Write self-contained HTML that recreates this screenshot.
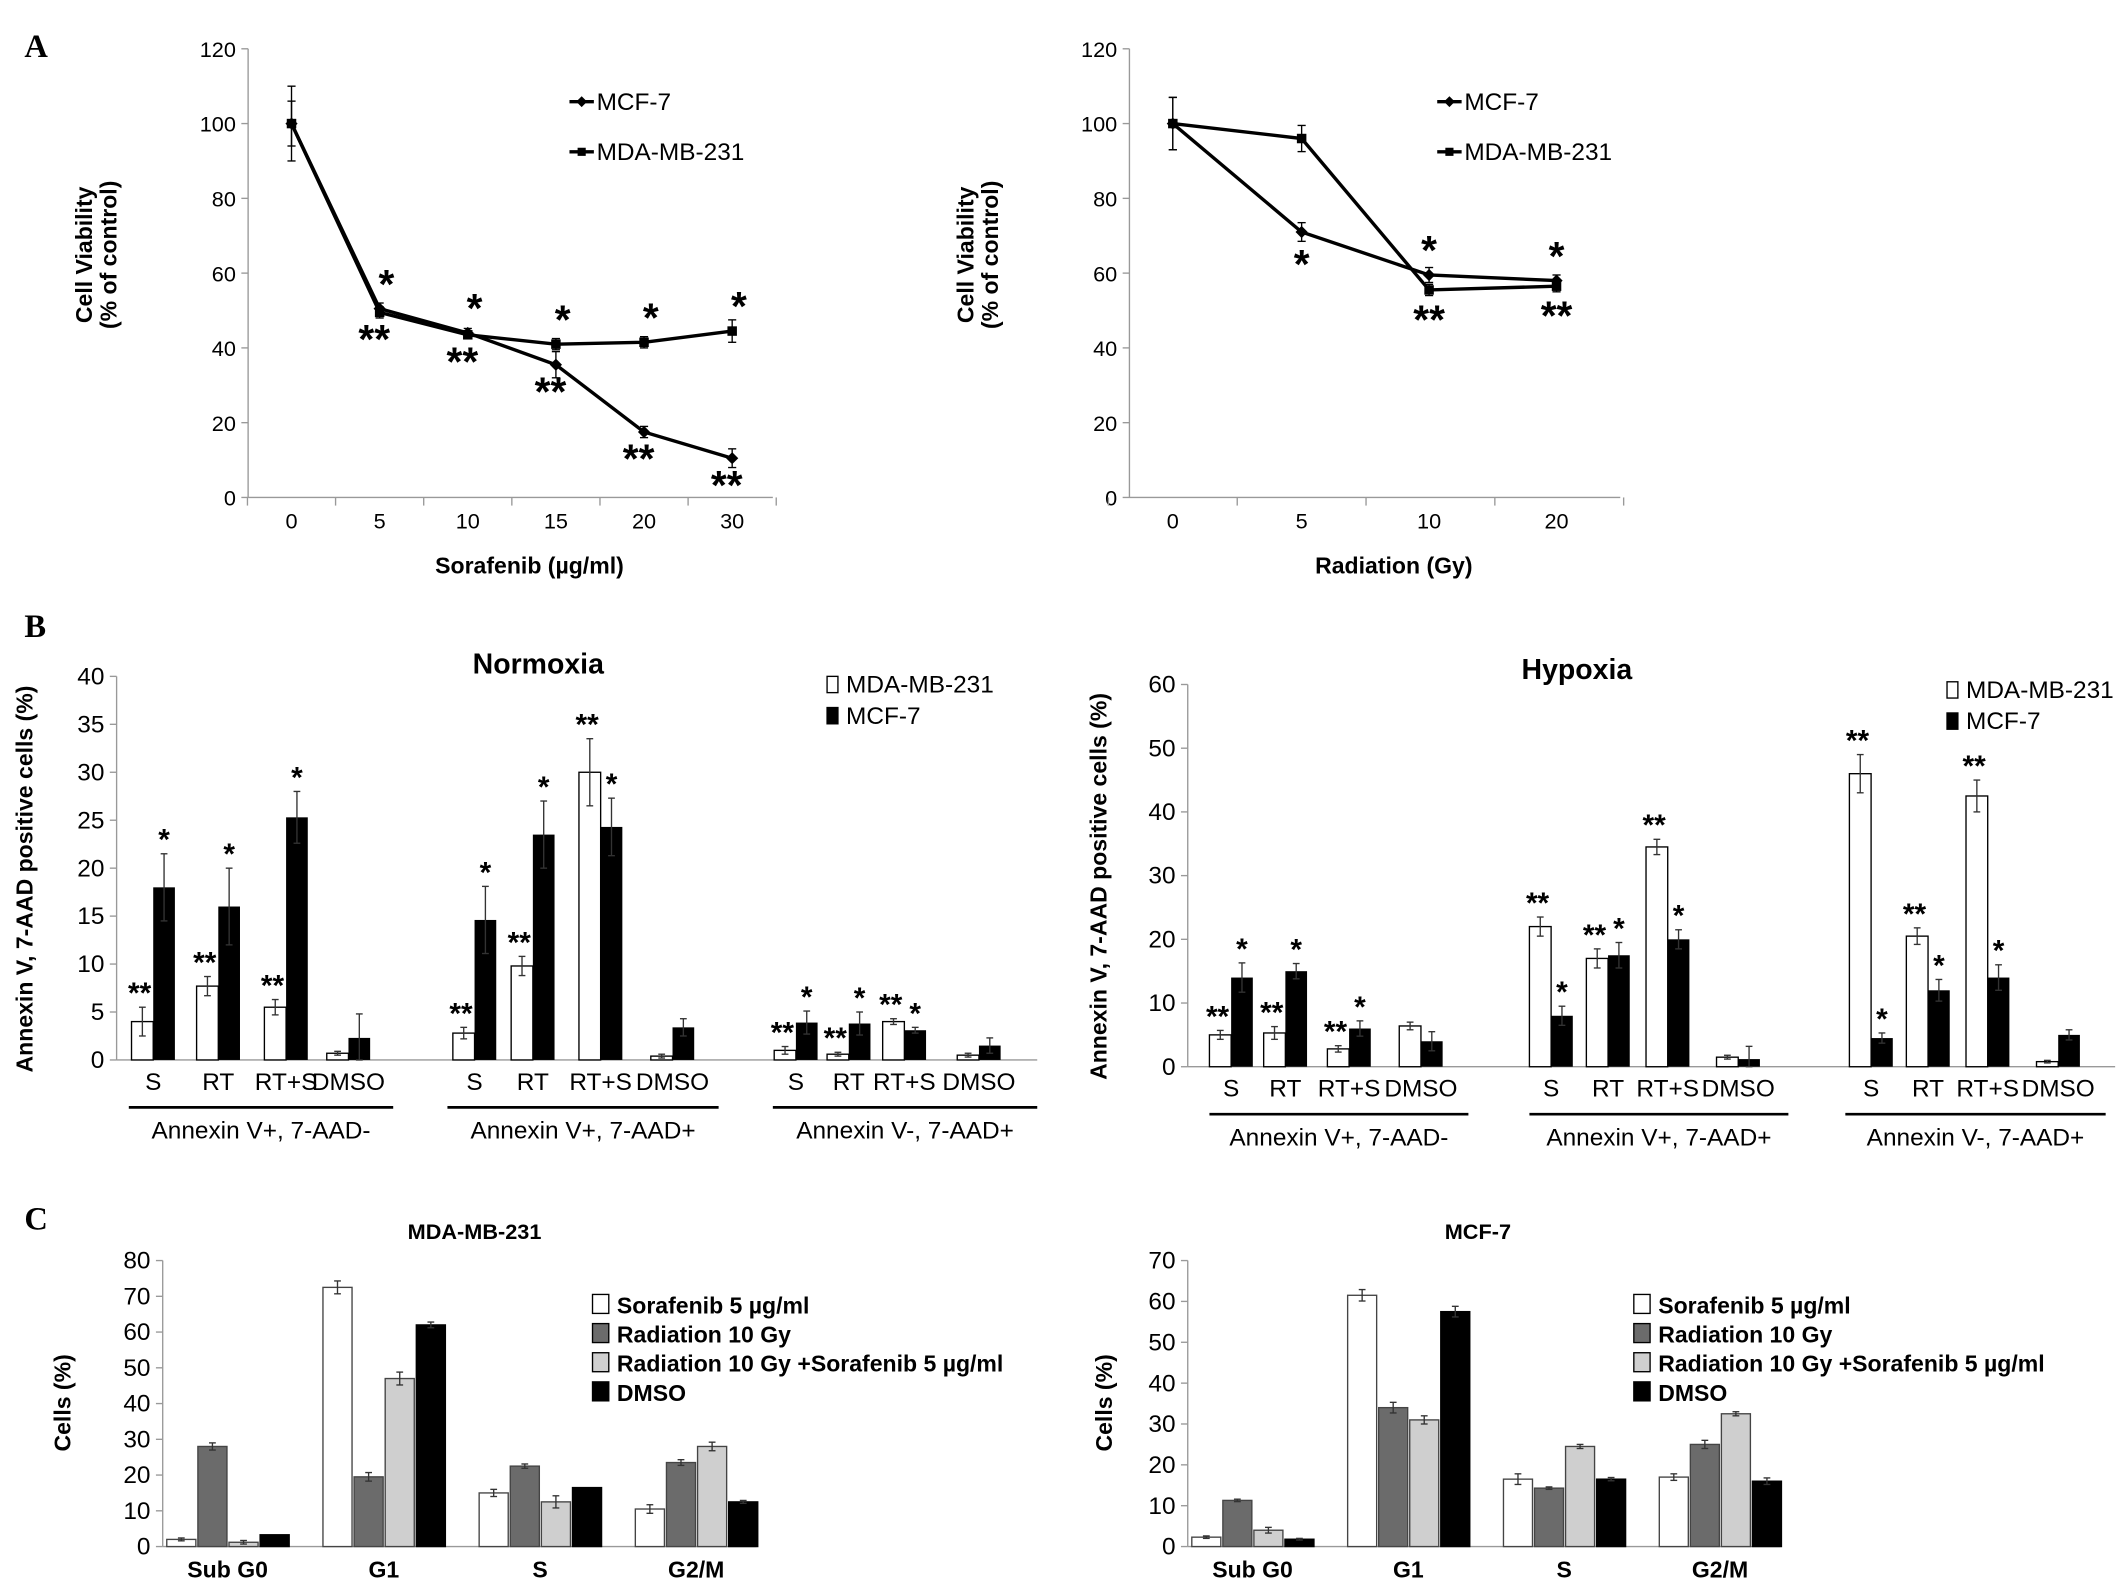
<!DOCTYPE html>
<html><head><meta charset="utf-8"><style>
html,body{margin:0;padding:0;background:#fff}
svg{display:block;font-family:"Liberation Sans",Arial,sans-serif}
</style></head><body>
<svg id="fig" width="2126" height="1594" viewBox="0 0 1568 1176" preserveAspectRatio="none" xmlns="http://www.w3.org/2000/svg">
<g id="static">
<text x="18" y="42" font-family="Liberation Serif" font-weight="bold" font-size="24">A</text>
<text x="18" y="470" font-family="Liberation Serif" font-weight="bold" font-size="24">B</text>
<text x="18" y="907" font-family="Liberation Serif" font-weight="bold" font-size="24">C</text>
</g>
</svg>
<script>
// ---- Panel A left (Sorafenib) ----
const aLCats = ['0','5','10','15','20','30'];
const aLMcf = [100, 50.5, 44, 35.5, 17.5, 10.5];
const aLMda = [100, 49.5, 43.5, 41, 41.5, 44.5];
const aLMcfErr = [6, 1.5, 1.2, 3.5, 1.5, 2.5];
const aLMdaErr = [10, 1.5, 1, 1.5, 1.5, 3];
const aLTicks = [0,20,40,60,80,100,120];
// ---- Panel A right (Radiation) ----
const aRCats = ['0','5','10','20'];
const aRMcf = [100, 71, 59.5, 58];
const aRMda = [100, 96, 55.5, 56.5];
const aRMcfErr = [7, 2.5, 2, 1.5];
const aRMdaErr = [7, 3.5, 1.5, 1.5];
// ---- Panel B ----
const bCats = ['S','RT','RT+S','DMSO'];
const bGroups = ['Annexin V+, 7-AAD-','Annexin V+, 7-AAD+','Annexin V-, 7-AAD+'];
const bNormMda = [4,7.7,5.5,0.7, 2.8,9.8,30,0.4, 1,0.6,4,0.5];
const bNormMcf = [18,16,25.3,2.3, 14.6,23.5,24.3,3.4, 3.9,3.8,3.1,1.5];
const bNormMdaErr = [1.5,1,0.8,0.2, 0.6,1,3.5,0.2, 0.4,0.2,0.3,0.2];
const bNormMcfErr = [3.5,4,2.7,2.5, 3.5,3.5,3,0.9, 1.2,1.2,0.3,0.8];
const bNormMdaStar = ['**','**','**','', '**','**','**','', '**','**','**',''];
const bNormMcfStar = ['*','*','*','', '*','*','*','', '*','*','*',''];
const bNormTicks = [0,5,10,15,20,25,30,35,40];
const bHypMda = [5,5.3,2.8,6.4, 22,17,34.5,1.5, 46,20.5,42.5,0.8];
const bHypMcf = [14,15,6,4, 8,17.5,20,1.2, 4.5,12,14,5];
const bHypMdaErr = [0.7,1,0.5,0.6, 1.5,1.5,1.2,0.3, 3,1.3,2.5,0.2];
const bHypMcfErr = [2.3,1.2,1.2,1.5, 1.5,2,1.5,2, 0.8,1.7,2,0.8];
const bHypMdaStar = ['**','**','**','', '**','**','**','', '**','**','**',''];
const bHypMcfStar = ['*','*','*','', '*','*','*','', '*','*','*',''];
const bHypTicks = [0,10,20,30,40,50,60];
// ---- Panel C ----
const cCats = ['Sub G0','G1','S','G2/M'];
const cSeries = ['Sorafenib 5 µg/ml','Radiation 10 Gy','Radiation 10 Gy +Sorafenib 5 µg/ml','DMSO'];
const cMdaSor = [2, 72.5, 15, 10.5];
const cMdaRad = [28, 19.5, 22.5, 23.5];
const cMdaBoth = [1.2, 47, 12.5, 28];
const cMdaDmso = [3.3, 62, 16.5, 12.5];
const cMdaErr = [[0.4,1.8,1,1.2],[1,1.2,0.6,0.8],[0.5,1.8,1.7,1.2],[0,0.8,0,0.4]];
const cMcfSor = [2.3, 61.5, 16.5, 17];
const cMcfRad = [11.3, 34, 14.3, 25];
const cMcfBoth = [4, 31, 24.5, 32.5];
const cMcfDmso = [1.8, 57.5, 16.5, 16];
const cMcfErr = [[0.3,1.4,1.3,0.8],[0.3,1.3,0.3,1],[0.7,1,0.5,0.5],[0.2,1.3,0.4,0.8]];
const cMdaTicks = [0,10,20,30,40,50,60,70,80];
const cMcfTicks = [0,10,20,30,40,50,60,70];

const NS='http://www.w3.org/2000/svg';
const svg=document.getElementById('fig');
function el(tag,attrs,parent,text){const e=document.createElementNS(NS,tag);for(const k in attrs)e.setAttribute(k,attrs[k]);if(text!==undefined)e.textContent=text;(parent||svg).appendChild(e);return e;}
function txt(x,y,s,size,extra,parent){const t=el('text',Object.assign({x:x,y:y,'font-size':size,'text-anchor':'middle'},extra||{}),parent,s);return t;}

function yAxis(g,x,y0,yTop,max,ticks,size){
  const sc=v=>y0-(v/max)*(y0-yTop);
  el('line',{x1:x,y1:y0,x2:x,y2:yTop,stroke:'#999','stroke-width':1},g);
  ticks.forEach(t=>{el('line',{x1:x-5,y1:sc(t),x2:x,y2:sc(t),stroke:'#999'},g);
    const l=txt(x-9,sc(t)+6,String(t),size,{'text-anchor':'end'},g);
    
    });
  return sc;
}
function errBar(g,x,y1,y2,w,col){el('line',{x1:x,y1:y1,x2:x,y2:y2,stroke:col||'#333','stroke-width':1},g);
  el('line',{x1:x-w,y1:y1,x2:x+w,y2:y1,stroke:col||'#333'},g);el('line',{x1:x-w,y1:y2,x2:x+w,y2:y2,stroke:col||'#333'},g);}

// ---- Panel A line charts ----
function lineChart(name,x0,xEnd,cats,xs,mcf,mda,mcfE,mdaE,xtitle,legX,stars){
  const g=el('g',{});
  
  
  const sc=yAxis(g,x0,367,36,120,aLTicks,16);
  el('line',{x1:x0,y1:367,x2:xEnd,y2:367,stroke:'#999'},g);
  const step=(xs[1]-xs[0]);
  for(let i=0;i<=cats.length;i++){const tx=xs[0]-step/2+i*step;el('line',{x1:tx,y1:367,x2:tx,y2:373,stroke:'#999'},g);}
  cats.forEach((c,i)=>{const l=txt(xs[i],390,c,16,{},g);});
  [[mcf,mcfE,'mcf7'],[mda,mdaE,'mdamb231']].forEach(([vals,errs,nm])=>{
    const pts=vals.map((v,i)=>xs[i]+','+sc(v)).join(' ');
    const pl=el('polyline',{points:pts,fill:'none',stroke:'#000','stroke-width':2.5},g);
    
    
    vals.forEach((v,i)=>{errBar(g,xs[i],sc(v+errs[i]),sc(v-errs[i]),3,'#000');
      let m;
      if(nm==='mcf7'){m=el('polygon',{points:`${xs[i]},${sc(v)-4.5} ${xs[i]+4.5},${sc(v)} ${xs[i]},${sc(v)+4.5} ${xs[i]-4.5},${sc(v)}`,fill:'#000'},g);}
      else{m=el('rect',{x:xs[i]-3.5,y:sc(v)-3.5,width:7,height:7,fill:'#000'},g);}
      
      
    });
  });
  stars(g,sc);
  const yl=el('text',{transform:`translate(${x0-115},188) rotate(-90)`,'font-size':17,'font-weight':'bold','text-anchor':'middle'},g);
  el('tspan',{x:0,y:0},yl,'Cell Viability');el('tspan',{x:0,y:18},yl,'(% of  control)');
  
  
  const xt=txt((x0+xEnd)/2+14,423,xtitle,17,{'font-weight':'bold'},g);
  
  
  [['MCF-7',75,'diamond'],['MDA-MB-231',112,'square']].forEach(([s,y,sh])=>{
    const lg=el('g',{},g);
    
    
    el('line',{x1:legX,y1:y,x2:legX+18,y2:y,stroke:'#000','stroke-width':2.5},lg);
    if(sh==='diamond')el('polygon',{points:`${legX+9},${y-4} ${legX+13},${y} ${legX+9},${y+4} ${legX+5},${y}`},lg);
    else el('rect',{x:legX+6,y:y-3,width:6,height:6},lg);
    txt(legX+20,y+6,s,18,{'text-anchor':'start'},lg);
  });
}
lineChart('sorafenib-viability-chart',183,570,aLCats,[215,280,345,410,475,540],aLMcf,aLMda,aLMcfErr,aLMdaErr,'Sorafenib (µg/ml)',420,(g,sc)=>{
  for(let i=1;i<aLCats.length;i++){const xs=[215,280,345,410,475,540];
    txt(xs[i]+5,Math.min(sc(aLMda[i]),sc(aLMcf[i]))-8,'*',30,{'font-weight':'bold'},g);
    txt(xs[i]-4,Math.max(sc(aLMda[i]),sc(aLMcf[i]))+30,'**',30,{'font-weight':'bold'},g);}
});
lineChart('radiation-viability-chart',833,1195,aRCats,[865,960,1054,1148],aRMcf,aRMda,aRMcfErr,aRMdaErr,'Radiation (Gy)',1060,(g,sc)=>{
  const xs=[865,960,1054,1148];
  txt(xs[1],sc(aRMcf[1])+34,'*',30,{'font-weight':'bold'},g);
  for(let i=2;i<4;i++){txt(xs[i],Math.min(sc(aRMda[i]),sc(aRMcf[i]))-8,'*',30,{'font-weight':'bold'},g);
    txt(xs[i],Math.max(sc(aRMda[i]),sc(aRMcf[i]))+32,'**',30,{'font-weight':'bold'},g);}
});

// ---- Panel B ----
function annexChart(name,x0,xEnd,y0,yTop,max,ticks,catX,mda,mcf,mdaE,mcfE,mdaS,mcfS,title,titleX,titleY,legX,legY,groupLines,bw,ylx){
  const g=el('g',{});
  
  
  const sc=yAxis(g,x0,y0,yTop,max,ticks,18);
  el('line',{x1:x0,y1:y0,x2:xEnd,y2:y0,stroke:'#999'},g);
  catX.forEach((cx,i)=>{
    const r1=el('rect',{x:cx-bw,y:sc(mda[i]),width:bw,height:y0-sc(mda[i]),fill:'#fff',stroke:'#000','stroke-width':1},g);
    
    
    const r2=el('rect',{x:cx,y:sc(mcf[i]),width:bw,height:y0-sc(mcf[i]),fill:'#000'},g);
    
    
    errBar(g,cx-bw/2,sc(mda[i]+mdaE[i]),sc(mda[i]-mdaE[i]),2.5);
    errBar(g,cx+bw/2,sc(mcf[i]+mcfE[i]),sc(Math.max(0,mcf[i]-mcfE[i])),2.5);
    if(mdaS[i])txt(cx-bw/2-2,sc(mda[i]+mdaE[i])-3,mdaS[i],22,{'font-weight':'bold'},g);
    if(mcfS[i])txt(cx+bw/2,sc(mcf[i]+mcfE[i])-3,mcfS[i],22,{'font-weight':'bold'},g);
    const l=txt(cx,y0+22,bCats[i%4],18,{},g);
    
    
  });
  groupLines.forEach(([a,b],k)=>{el('line',{x1:a,y1:y0+35,x2:b,y2:y0+35,stroke:'#000','stroke-width':2},g);
    const l=txt((a+b)/2,y0+58,bGroups[k],18,{},g);
    
    });
  const t=txt(titleX,titleY,title,21,{'font-weight':'bold'},g);
  
  
  const yl=el('text',{transform:`translate(${ylx},${(y0+yTop)/2+8}) rotate(-90)`,'font-size':17,'font-weight':'bold','text-anchor':'middle'},g,'Annexin V, 7-AAD positive cells (%)');
  
  
  [['MDA-MB-231','#fff'],['MCF-7','#000']].forEach(([s,c],k)=>{
    const lg=el('g',{},g);
    
    
    el('rect',{x:legX,y:legY+k*23-12,width:8,height:12,fill:c,stroke:'#000'},lg);
    txt(legX+14,legY+k*23,s,18,{'text-anchor':'start'},lg);
  });
}
annexChart('normoxia-chart',86,765,782,499,40,bNormTicks,[113,161,211,257,350,393,443,496,587,626,667,722],bNormMda,bNormMcf,bNormMdaErr,bNormMcfErr,bNormMdaStar,bNormMcfStar,'Normoxia',397,497,610,511,[[95,290],[330,530],[570,765]],16,24);
annexChart('hypoxia-chart',876,1560,787,505,60,bHypTicks,[908,948,995,1048,1144,1186,1230,1282,1380,1422,1466,1518],bHypMda,bHypMcf,bHypMdaErr,bHypMcfErr,bHypMdaStar,bHypMcfStar,'Hypoxia',1163,501,1436,515,[[892,1083],[1128,1319],[1361,1553]],16,816);

// ---- Panel C ----
function cycleChart(name,x0,xEnd,max,ticks,series,errs,title,titleX,legX,ylx){
  const g=el('g',{});
  
  
  const y0=1141,yTop=930;
  const sc=yAxis(g,x0,y0,yTop,max,ticks,18);
  el('line',{x1:x0,y1:y0,x2:xEnd,y2:y0,stroke:'#999'},g);
  const L=xEnd-x0, gw=0.205*L, bw=gw/4-1;
  const fills=['#fff','#6b6b6b','#cfcfcf','#000'];
  cCats.forEach((c,i)=>{
    const gs=x0+3+i*0.263*L;
    series.forEach((vals,s)=>{
      const bx=gs+s*(bw+1.5);
      const r=el('rect',{x:bx,y:sc(vals[i]),width:bw,height:y0-sc(vals[i]),fill:fills[s],stroke:s==3?'#000':'#444','stroke-width':1},g);
      
      
      if(errs[s][i]>0)errBar(g,bx+bw/2,sc(vals[i]+errs[s][i]),sc(vals[i]-errs[s][i]),2.5);
    });
    const l=txt(gs+gw/2,y0+23,c,17,{'font-weight':'bold'},g);
    
    
  });
  const t=txt(titleX,914,title,16,{'font-weight':'bold'},g);
  
  
  const yl=el('text',{transform:`translate(${ylx},1035) rotate(-90)`,'font-size':17,'font-weight':'bold','text-anchor':'middle'},g,'Cells (%)');
  
  
  cSeries.forEach((s,k)=>{
    const lg=el('g',{},g);
    
    
    el('rect',{x:legX,y:955+k*21.5,width:12,height:14,fill:fills[k],stroke:'#000'},lg);
    txt(legX+18,969+k*21.5,s,17,{'text-anchor':'start','font-weight':'bold'},lg);
  });
}
cycleChart('mdamb231-cell-cycle-chart',120,558,80,cMdaTicks,[cMdaSor,cMdaRad,cMdaBoth,cMdaDmso],cMdaErr,'MDA-MB-231',350,437,52);
cycleChart('mcf7-cell-cycle-chart',876,1313,70,cMcfTicks,[cMcfSor,cMcfRad,cMcfBoth,cMcfDmso],cMcfErr,'MCF-7',1090,1205,820);
</script>
</body></html>
